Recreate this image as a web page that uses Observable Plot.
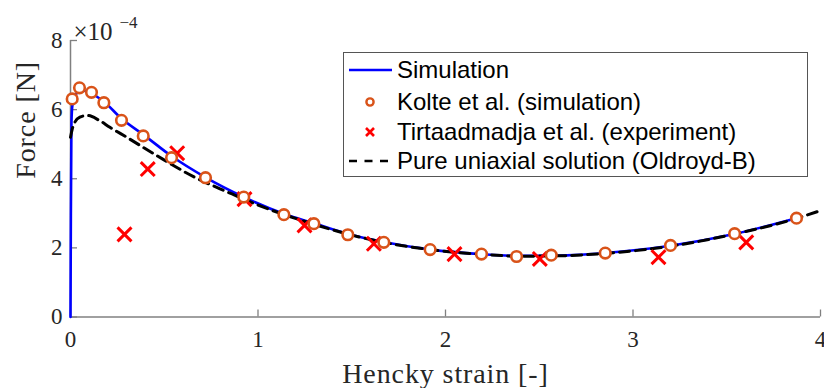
<!DOCTYPE html>
<html><head><meta charset="utf-8">
<script src="https://cdn.jsdelivr.net/npm/d3@7"></script>
<script src="https://cdn.jsdelivr.net/npm/@observablehq/plot@0.6"></script>
<style>
html,body{margin:0;padding:0;background:#fff;}
#wrap{position:relative;width:824px;height:388px;overflow:hidden;}
#legend{position:absolute;left:343px;top:52px;width:465px;height:125px;border:1px solid #555;box-sizing:border-box;background:#fff;font-family:"Liberation Sans",Arial,sans-serif;font-size:24px;color:#000;}
.row{position:absolute;left:3px;height:30px;display:flex;align-items:center;white-space:nowrap;}
.row svg{margin-right:4px;}
</style>
</head><body>
<div id="wrap"><div id="legend"></div></div>
<script>
// Hencky strain (-) and force in units of 1e-4 N
const simX = [0, 0.002, 0.005, 0.01, 0.03, 0.06, 0.1, 0.18, 0.27, 0.39, 0.54, 0.72, 0.92, 1.14, 1.30, 1.48, 1.67, 1.92, 2.19, 2.38, 2.56, 2.85, 3.20, 3.54, 3.87];
const simF = [0, 3.0, 5.6, 6.12, 6.45, 6.56, 6.5, 6.22, 5.75, 5.27, 4.65, 4.04, 3.48, 2.98, 2.71, 2.40, 2.17, 1.95, 1.82, 1.77, 1.77, 1.85, 2.06, 2.40, 2.86];

const kolteX = [0.009, 0.048, 0.112, 0.178, 0.272, 0.388, 0.539, 0.72, 0.924, 1.138, 1.298, 1.479, 1.671, 1.918, 2.192, 2.379, 2.564, 2.852, 3.20, 3.542, 3.872];
const kolteF = [6.31, 6.63, 6.50, 6.20, 5.69, 5.24, 4.61, 4.03, 3.47, 2.96, 2.70, 2.38, 2.16, 1.95, 1.82, 1.75, 1.79, 1.85, 2.07, 2.41, 2.86];

const tirtX = [0.288, 0.412, 0.569, 0.928, 1.248, 1.618, 2.048, 2.503, 3.136, 3.604];
const tirtF = [2.39, 4.28, 4.74, 3.41, 2.65, 2.12, 1.82, 1.68, 1.73, 2.16];

const oldX = [0, 0.01, 0.02, 0.05, 0.09, 0.15, 0.21, 0.30, 0.46, 0.66, 0.84, 1.0, 1.14, 1.30, 1.50, 1.70, 1.92, 2.20, 2.40, 2.60, 2.85, 3.20, 3.55, 3.87, 4.0];
const oldF = [5.2, 5.45, 5.6, 5.78, 5.83, 5.7, 5.49, 5.20, 4.67, 4.05, 3.61, 3.24, 2.96, 2.68, 2.37, 2.13, 1.95, 1.81, 1.76, 1.77, 1.84, 2.05, 2.41, 2.85, 3.08];

const xTicks = [0, 1, 2, 3, 4];
const yTicks = [0, 2, 4, 6, 8];
const seriesNames = ["Simulation", "Kolte et al. (simulation)", "Tirtaadmadja et al. (experiment)", "Pure uniaxial solution (Oldroyd-B)"];

const sim = simX.map((x, i) => ({x, y: simF[i]}));
const kolte = kolteX.map((x, i) => ({x, y: kolteF[i]}));
const tirt = tirtX.map((x, i) => ({x, y: tirtF[i]}));
const old = oldX.map((x, i) => ({x, y: oldF[i]}));

const serif = "'Liberation Serif', 'DejaVu Serif', serif";
const axisGray = "#808080";
const textCol = "#262626";

const W = 824, H = 388, ML = 70, MR = 4, MT = 40, MB = 71.5;
const frameW = W - ML - MR, frameH = H - MT - MB, tickLen = 7;

const plot = Plot.plot({
  width: W, height: H,
  marginLeft: ML, marginRight: MR, marginTop: MT, marginBottom: MB,
  x: {domain: [0, 4]},
  y: {domain: [0, 8]},
  style: {fontFamily: serif, background: "transparent", overflow: "visible"},
  marks: [
    Plot.ruleY([0], {stroke: axisGray, strokeWidth: 1.5}),
    Plot.ruleX([0], {stroke: axisGray, strokeWidth: 1.5}),
    // inward tick marks
    Plot.tickX(xTicks, {x: d => d, insetTop: frameH - tickLen, stroke: axisGray, strokeWidth: 1.3}),
    Plot.tickY(yTicks, {y: d => d, insetRight: frameW - tickLen, stroke: axisGray, strokeWidth: 1.3}),
    Plot.axisX({ticks: xTicks, tickSize: 0, tickPadding: 14, fontSize: 23, label: null, fill: textCol, tickFormat: d => d}),
    Plot.axisY({ticks: yTicks, tickSize: 0, tickPadding: 8, fontSize: 23, label: null, fill: textCol, tickFormat: d => d}),
    Plot.line(sim, {x: "x", y: "y", stroke: "#0000FF", strokeWidth: 2.6, curve: "monotone-x"}),
    Plot.line(old, {x: "x", y: "y", stroke: "#000", strokeWidth: 3, strokeDasharray: "10,6", curve: "monotone-x"}),
    Plot.dot(tirt, {x: "x", y: "y", symbol: "times", r: 6.4, stroke: "#FF0000", strokeWidth: 3}),
    Plot.dot(kolte, {x: "x", y: "y", symbol: "circle", r: 5.3, stroke: "#D95319", fill: "white", strokeWidth: 2.6}),
    Plot.text(["Hencky strain [-]"], {frameAnchor: "bottom", dy: 66, fontSize: 28, fill: textCol, fontFamily: serif, className: "wide"}),
    Plot.text(["Force [N]"], {frameAnchor: "left", dx: -44, rotate: -90, fontSize: 28, fill: textCol, fontFamily: serif, className: "wide"}),
    Plot.text(["×10"], {frameAnchor: "top-left", textAnchor: "start", dx: 3, dy: -18, fontSize: 25, fill: textCol, fontFamily: serif}),
    Plot.text(["−4"], {frameAnchor: "top-left", textAnchor: "start", dx: 49, dy: -25, fontSize: 17, fill: textCol, fontFamily: serif})
  ]
});
plot.querySelectorAll("g.wide text").forEach(t => t.setAttribute("letter-spacing", "0.9"));
const wrap = document.getElementById("wrap");
wrap.insertBefore(plot, wrap.firstChild);

// legend
const legend = document.getElementById("legend");
const swatches = [
  '<svg width="46" height="20"><line x1="2" y1="10" x2="45" y2="10" stroke="#0000FF" stroke-width="2.6"/></svg>',
  '<svg width="46" height="20"><circle cx="23" cy="10" r="3.6" fill="white" stroke="#D95319" stroke-width="2.4"/></svg>',
  '<svg width="46" height="20"><path d="M19,6L27,14M19,14L27,6" stroke="#FF0000" stroke-width="2.6"/></svg>',
  '<svg width="46" height="20"><line x1="2" y1="10" x2="45" y2="10" stroke="#000" stroke-width="2.6" stroke-dasharray="8,7.5"/></svg>'
];
const rowTops = [2, 34, 64, 93];
seriesNames.forEach((name, i) => {
  const r = document.createElement("div");
  r.className = "row";
  r.style.top = rowTops[i] + "px";
  r.innerHTML = swatches[i] + "<span>" + name + "</span>";
  legend.appendChild(r);
});
</script>
</body></html>
